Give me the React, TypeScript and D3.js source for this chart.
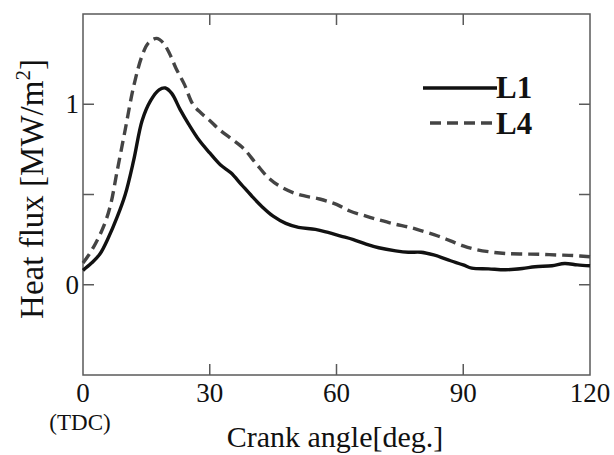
import { useEffect, useRef } from 'react';
import * as d3 from 'd3';

// crank angle [deg] / heat flux [MW/m2]
const l1Angle = [0, 2, 4, 6, 8, 10, 12, 14, 16, 18, 19.5, 21, 23, 25, 27.5, 30, 32.5, 35, 37.5, 40, 42.5, 45, 48, 51, 55, 58, 61, 64, 67, 70, 74, 77, 80, 83, 87, 90, 92, 96, 100, 104, 107, 111, 114, 117, 120];
const l1Flux = [0.08, 0.12, 0.17, 0.26, 0.37, 0.5, 0.69, 0.91, 1.02, 1.08, 1.09, 1.06, 0.97, 0.89, 0.8, 0.73, 0.665, 0.62, 0.555, 0.49, 0.43, 0.38, 0.34, 0.318, 0.307, 0.29, 0.27, 0.25, 0.225, 0.205, 0.188, 0.18, 0.18, 0.165, 0.133, 0.11, 0.092, 0.088, 0.083, 0.09, 0.1, 0.105, 0.118, 0.11, 0.105];

const l4Angle = [0, 1.5, 3, 5, 6.5, 8, 10, 12, 14, 15.5, 17.4, 19, 20.5, 22, 24, 26, 28, 30, 32, 35, 38, 41, 44, 47, 51, 56, 60, 63, 67, 70, 74, 77, 80, 84, 87, 90, 93, 97, 100, 104, 108, 112, 116, 120];
const l4Flux = [0.12, 0.17, 0.23, 0.33, 0.44, 0.62, 0.86, 1.1, 1.27, 1.34, 1.365, 1.34, 1.28, 1.2, 1.11, 1.0, 0.95, 0.91, 0.865, 0.81, 0.755, 0.67, 0.59, 0.54, 0.5, 0.475, 0.445, 0.41, 0.38, 0.36, 0.335, 0.32, 0.3, 0.27, 0.243, 0.215, 0.195, 0.18, 0.173, 0.17, 0.169, 0.165, 0.162, 0.155];

const xTicks = [0, 30, 60, 90, 120];
const yTicks = [-0.5, 0, 0.5, 1, 1.5];
const yTickLabels = [0, 1];
const seriesNames = ['L1', 'L4'];

const SERIF = 'Liberation Serif, DejaVu Serif, serif';

export default function App() {
  const svgRef = useRef<SVGSVGElement | null>(null);

  useEffect(() => {
    const W = 614;
    const H = 455;
    const margin = { top: 14, right: 24, bottom: 80, left: 83 };
    const width = W - margin.left - margin.right;
    const height = H - margin.top - margin.bottom;

    const root = d3.select(svgRef.current);
    root.selectAll('*').remove();

    const svg = root
      .attr('width', W)
      .attr('height', H)
      .append('g')
      .attr('font-family', SERIF)
      .attr('transform', `translate(${margin.left},${margin.top})`);

    const x = d3.scaleLinear().domain([0, 120]).range([0, width]);
    const y = d3.scaleLinear().domain([-0.5, 1.5]).range([height, 0]);

    const frame = '#5a5a5a';
    const tickLen = 11;

    // frame
    svg.append('rect')
      .attr('width', width)
      .attr('height', height)
      .attr('fill', 'none')
      .attr('stroke', frame)
      .attr('stroke-width', 1.5);

    // inward ticks on all four sides
    const ticks = svg.append('g').attr('stroke', frame).attr('stroke-width', 1.5);
    xTicks.slice(1, -1).forEach(t => {
      ticks.append('line').attr('x1', x(t)).attr('x2', x(t)).attr('y1', height).attr('y2', height - tickLen);
      ticks.append('line').attr('x1', x(t)).attr('x2', x(t)).attr('y1', 0).attr('y2', tickLen);
    });
    yTicks.slice(1, -1).forEach(t => {
      ticks.append('line').attr('x1', 0).attr('x2', tickLen).attr('y1', y(t)).attr('y2', y(t));
      ticks.append('line').attr('x1', width).attr('x2', width - tickLen).attr('y1', y(t)).attr('y2', y(t));
    });

    // tick labels
    svg.selectAll('.xlab')
      .data(xTicks)
      .enter()
      .append('text')
      .attr('x', d => x(d))
      .attr('y', height + 27)
      .attr('text-anchor', 'middle')
      .attr('font-family', SERIF)
      .attr('font-size', 27)
      .attr('fill', '#111')
      .text(d => String(d));

    svg.selectAll('.ylab')
      .data(yTickLabels)
      .enter()
      .append('text')
      .attr('x', -4)
      .attr('y', d => y(d) + 9)
      .attr('text-anchor', 'end')
      .attr('font-family', SERIF)
      .attr('font-size', 27)
      .attr('fill', '#111')
      .text(d => String(d));

    svg.append('text')
      .attr('x', x(0) - 3)
      .attr('y', height + 55)
      .attr('text-anchor', 'middle')
      .attr('font-family', SERIF)
      .attr('font-size', 23)
      .attr('fill', '#111')
      .text('(TDC)');

    // axis titles
    svg.append('text')
      .attr('x', 335 - margin.left)
      .attr('y', 447 - margin.top)
      .attr('text-anchor', 'middle')
      .attr('font-family', SERIF)
      .attr('font-size', 30)
      .attr('fill', '#111')
      .text('Crank angle[deg.]');

    const yTitle = svg.append('text')
      .attr('transform', `translate(${43 - margin.left},${189 - margin.top}) rotate(-90)`)
      .attr('text-anchor', 'middle')
      .attr('font-family', SERIF)
      .attr('font-size', 33)
      .attr('fill', '#111');
    yTitle.append('tspan').text('Heat flux [MW/m');
    yTitle.append('tspan').attr('font-size', 21).attr('dy', -13).text('2');
    yTitle.append('tspan').attr('dy', 13).text(']');

    // curves
    const line = d3.line<[number, number]>()
      .x(d => x(d[0]))
      .y(d => y(d[1]))
      .curve(d3.curveCatmullRom.alpha(0.5));

    const l1 = l1Angle.map((a, i) => [a, l1Flux[i]] as [number, number]);
    const l4 = l4Angle.map((a, i) => [a, l4Flux[i]] as [number, number]);

    svg.append('path')
      .datum(l4)
      .attr('d', line)
      .attr('fill', 'none')
      .attr('stroke', '#444')
      .attr('stroke-width', 3.4)
      .attr('stroke-dasharray', '11,6');

    svg.append('path')
      .datum(l1)
      .attr('d', line)
      .attr('fill', 'none')
      .attr('stroke', '#111')
      .attr('stroke-width', 3.4);

    // legend
    const legend = svg.append('g');
    const styles = [
      { x0: 423, yy: 88, stroke: '#111', dash: null as string | null, ty: 98 },
      { x0: 430, yy: 123, stroke: '#444', dash: '11,6', ty: 134 },
    ];
    seriesNames.forEach((name, i) => {
      const s = styles[i];
      legend.append('line')
        .attr('x1', s.x0 - margin.left)
        .attr('x2', 497 - margin.left)
        .attr('y1', s.yy - margin.top)
        .attr('y2', s.yy - margin.top)
        .attr('stroke', s.stroke)
        .attr('stroke-width', 3.4)
        .attr('stroke-dasharray', s.dash);
      legend.append('text')
        .attr('x', 496 - margin.left)
        .attr('y', s.ty - margin.top)
        .attr('font-family', SERIF)
        .attr('font-size', 31)
        .attr('font-weight', 'bold')
        .attr('fill', '#111')
        .text(name);
    });
  }, []);

  return (
    <svg
      ref={svgRef}
      style={{ position: 'absolute', left: 0, top: 0, background: '#fff' }}
    />
  );
}
